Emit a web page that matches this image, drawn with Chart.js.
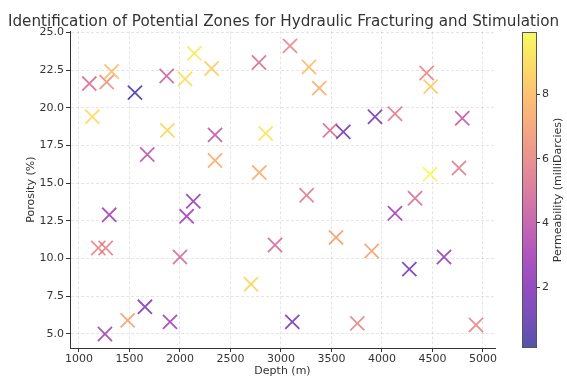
<!DOCTYPE html>
<html>
<head>
<meta charset="utf-8">
<script src="https://cdn.jsdelivr.net/npm/chart.js@4"></script>
<style>
  html, body { margin: 0; padding: 0; background: #fff; }
  #wrap { position: relative; width: 567px; height: 381px; }
  #main { position: absolute; left: 0; top: 0; }
  #cbar { position: absolute; left: 500px; top: 0; }
</style>
</head>
<body>
<div id="wrap">
  <canvas id="main" width="567" height="381"></canvas>
  <canvas id="cbar" width="67" height="381"></canvas>
</div>
<script>
// dados
const depth = [1102, 1274, 1323, 1554, 1132, 1868, 2050, 2142, 2313, 1875,
               2347, 1676, 2347, 2782, 2848, 2785, 3089, 3277, 3379, 4442,
               4482, 3931, 4129, 3485, 3617, 4795, 4475, 4762, 3254, 4327,
               4129, 1300, 2132, 2066, 1191, 1264, 2000, 2941, 2703, 1653,
               1482, 1901, 1257, 3112, 3545, 3898, 4271, 4614, 3756, 4931];
const porosity = [21.6, 21.7, 22.4, 21.0, 19.4, 22.1, 21.9, 23.6, 22.6, 18.5,
                  18.2, 16.9, 16.5, 23.0, 18.3, 15.7, 24.1, 22.7, 21.3, 22.3,
                  21.4, 19.4, 19.6, 18.5, 18.4, 19.3, 15.6, 16.0, 14.2, 14.0,
                  13.0, 12.9, 13.8, 12.8, 10.7, 10.7, 10.1, 10.9, 8.3, 6.8,
                  5.9, 5.8, 5.0, 5.8, 11.4, 10.5, 9.3, 10.1, 5.7, 5.6];
const permeability = [5.0, 6.5, 8.0, 0.2, 9.0, 4.5, 9.0, 9.5, 8.5, 8.8,
                      4.0, 3.8, 7.5, 5.0, 9.3, 7.5, 6.0, 8.0, 7.5, 6.0,
                      8.5, 1.5, 5.5, 5.0, 1.5, 4.0, 9.9, 5.5, 5.5, 5.0,
                      3.0, 3.0, 2.5, 3.0, 6.0, 5.8, 4.8, 4.8, 8.8, 1.8,
                      7.0, 3.0, 3.0, 1.5, 7.0, 7.0, 1.5, 2.5, 6.0, 6.0];
const xTicks = [1000, 1500, 2000, 2500, 3000, 3500, 4000, 4500, 5000];
const yTicks = [5.0, 7.5, 10.0, 12.5, 15.0, 17.5, 20.0, 22.5, 25.0];
const cbTicks = [2, 4, 6, 8];
const permMin = 0.1, permMax = 9.95;

// mapa de cores plasma (aproximado)
const plasmaStops = [
  [13, 8, 135], [65, 4, 157], [106, 0, 168], [143, 13, 164], [177, 42, 144],
  [204, 71, 120], [225, 100, 98], [242, 132, 75], [252, 166, 54], [252, 206, 37], [240, 249, 33]
];
function plasma(t, a) {
  t = Math.min(1, Math.max(0, t));
  const f = t * 10, i = Math.min(9, Math.floor(f)), u = f - i;
  const c0 = plasmaStops[i], c1 = plasmaStops[i + 1];
  const c = c0.map((v, k) => Math.round(v + (c1[k] - v) * u));
  return `rgba(${c[0]}, ${c[1]}, ${c[2]}, ${a})`;
}
const pointColors = permeability.map(p => plasma((p - permMin) / (permMax - permMin), 0.7));

const fonte = 'DejaVu Sans';
Chart.defaults.font.family = fonte;
Chart.defaults.color = '#333';

new Chart(document.getElementById('main'), {
  type: 'scatter',
  data: {
    datasets: [{
      data: depth.map((d, i) => ({ x: d, y: porosity[i] })),
      pointStyle: 'crossRot',
      radius: 10,
      borderWidth: 1.8,
      borderColor: pointColors,
      backgroundColor: pointColors
    }]
  },
  options: {
    responsive: false,
    animation: false,
    events: [],
    plugins: {
      legend: { display: false },
      tooltip: { enabled: false },
      title: {
        display: true,
        text: 'Identification of Potential Zones for Hydraulic Fracturing and Stimulation',
        font: { size: 15.2, weight: 'normal' },
        color: '#333',
        padding: { top: 13, bottom: 0 }
      }
    },
    scales: {
      x: {
        type: 'linear',
        min: 911,
        max: 5119,
        afterFit: s => { s.height = 33; },
        afterBuildTicks: s => { s.ticks = xTicks.map(v => ({ value: v })); },
        ticks: { font: { size: 11 }, color: '#333', padding: 1, maxRotation: 0, callback: v => String(v) },
        grid: { color: 'rgba(0,0,0,0.1)', tickColor: '#333', tickLength: 4 },
        border: { display: true, color: '#333', width: 1, dash: [3, 2] },
        title: { display: true, text: 'Depth (m)', font: { size: 11 }, color: '#333', padding: { top: 0, bottom: 3 } }
      },
      y: {
        type: 'linear',
        min: 4.07,
        max: 25.07,
        afterFit: s => { s.width = 70; },
        afterBuildTicks: s => { s.ticks = yTicks.map(v => ({ value: v })); },
        ticks: { font: { size: 11 }, color: '#333', padding: 2, callback: v => v.toFixed(1) },
        grid: { color: 'rgba(0,0,0,0.1)', tickColor: '#333', tickLength: 4 },
        border: { display: true, color: '#333', width: 1, dash: [3, 2] },
        title: { display: true, text: 'Porosity (%)', font: { size: 11 }, color: '#333', padding: { top: 25, bottom: 0 } }
      },
      // eixo vazio só para reservar o espaço da barra de cores
      espaco: {
        type: 'linear',
        position: 'right',
        display: true,
        afterFit: s => { s.width = 72; },
        ticks: { display: false },
        grid: { display: false },
        border: { display: false }
      }
    }
  }
});

// barra de cores (permeabilidade)
const barraCores = {
  id: 'barraCores',
  beforeDatasetsDraw(chart) {
    const { ctx, chartArea: a, scales: { y } } = chart;
    const y0 = y.getPixelForValue(permMin), y1 = y.getPixelForValue(permMax);
    const g = ctx.createLinearGradient(0, y0, 0, y1);
    for (let i = 0; i <= 40; i++) g.addColorStop(i / 40, plasma(i / 40, 0.7));
    ctx.save();
    ctx.fillStyle = g;
    ctx.fillRect(a.left, a.top, a.right - a.left, a.bottom - a.top);
    ctx.strokeStyle = '#555';
    ctx.lineWidth = 1;
    ctx.strokeRect(a.left + 0.5, a.top + 0.5, a.right - a.left - 1, a.bottom - a.top - 1);
    ctx.translate(58, (a.top + a.bottom) / 2);
    ctx.rotate(-Math.PI / 2);
    ctx.font = `11px "${fonte}"`;
    ctx.fillStyle = '#333';
    ctx.textAlign = 'center';
    ctx.textBaseline = 'middle';
    ctx.fillText('Permeability (milliDarcies)', 0, 0);
    ctx.restore();
  }
};

new Chart(document.getElementById('cbar'), {
  type: 'scatter',
  data: { datasets: [{ data: [] }] },
  options: {
    responsive: false,
    animation: false,
    events: [],
    layout: { padding: { left: 22, top: 32, bottom: 33 } },
    plugins: { legend: { display: false }, tooltip: { enabled: false } },
    scales: {
      x: { display: false, min: 0, max: 1 },
      y: {
        position: 'right',
        min: permMin,
        max: permMax,
        afterFit: s => { s.width = 30; },
        afterBuildTicks: s => { s.ticks = cbTicks.map(v => ({ value: v })); },
        ticks: { font: { size: 11 }, color: '#333', padding: 2 },
        grid: { drawOnChartArea: false, tickColor: '#333', tickLength: 3 },
        border: { display: false }
      }
    }
  },
  plugins: [barraCores]
});
</script>
</body>
</html>
